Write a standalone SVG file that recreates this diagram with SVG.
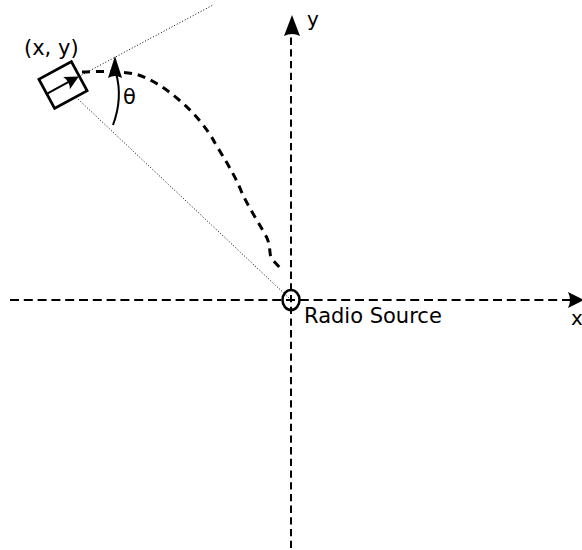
<svg xmlns="http://www.w3.org/2000/svg" width="582" height="550" viewBox="0 0 582 550">
<style>
  text { font-family: "DejaVu Sans", "Liberation Sans", sans-serif; fill: #000; }
  .axis { fill: none; stroke: #000; stroke-width: 2; }
  .dot { fill: none; stroke: #000; stroke-width: 1; stroke-dasharray: 1 2; }
  .traj { fill: none; stroke: #000; stroke-width: 3; stroke-dasharray: 8 6; }
  .head { fill: #000; stroke: none; }
</style>
<rect width="582" height="550" fill="#fff"/>
<g id="connectors">
  <line class="axis" x1="10" y1="300" x2="572" y2="300" stroke-dasharray="9 4.8"/>
  <path class="head" d="M584,300 L568,292 Q572,300 568,308 Z"/>
  <line class="axis" x1="291" y1="548" x2="291" y2="33" stroke-dasharray="7.3 4.4"/>
  <path class="head" d="M292,15 L284,36 Q292,32 300,36 Z"/>
  <line class="dot" x1="63" y1="85" x2="213" y2="5"/>
  <line class="dot" x1="63" y1="85" x2="289" y2="298"/>
  <path class="traj" d="M82,72 C100,71 120,71 135,74 C150,78 165,88 178,99 C195,113 208,130 215,143 C225,160 235,175 242,193 C250,210 262,228 267,238 C271,248 269,256 272,259 L280,268"/>
  <path fill="none" stroke="#000" stroke-width="2" d="M113,125 Q123,98 116,73"/>
  <path class="head" d="M115,56 L108,78 Q115,74 122,78 Z"/>
</g>
<g id="robot" transform="translate(63,85) rotate(-28.5)">
  <rect x="-18.5" y="-16.5" width="37" height="33" fill="#fff" stroke="#000" stroke-width="2.7"/>
  <line x1="-18.5" y1="0" x2="8" y2="0" stroke="#000" stroke-width="2"/>
  <path class="head" d="M18,0 L4,-7 Q8,0 4,7 Z"/>
</g>
<g id="source">
  <ellipse cx="291" cy="300" rx="8.5" ry="10" fill="none" stroke="#000" stroke-width="2.5"/>
</g>
<g id="labels">
  <text x="24" y="55" font-size="21">(x, y)</text>
  <text x="123" y="104" font-size="21">θ</text>
  <text x="307" y="26" font-size="20">y</text>
  <text x="304" y="323" font-size="21">Radio Source</text>
  <text x="571" y="325" font-size="20">x</text>
</g>
</svg>
